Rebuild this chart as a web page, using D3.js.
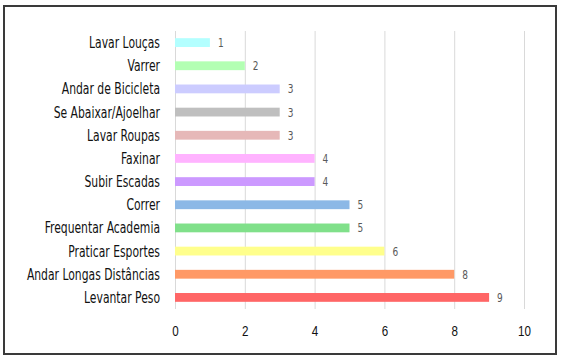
<!DOCTYPE html>
<html>
<head>
<meta charset="utf-8">
<script src="https://cdn.jsdelivr.net/npm/d3@7"></script>
<style>
  body{margin:0;background:#fff;}
  svg{display:block;font-family:"DejaVu Sans Condensed","DejaVu Sans",sans-serif;}
</style>
</head>
<body>
<div id="chart"></div>
<script>
const activities=["Lavar Louças","Varrer","Andar de Bicicleta","Se Abaixar/Ajoelhar","Lavar Roupas","Faxinar","Subir Escadas","Correr","Frequentar Academia","Praticar Esportes","Andar Longas Distâncias","Levantar Peso"];
const counts=[1,2,3,3,3,4,4,5,5,6,8,9];
const barColors=["#b3ffff","#b3ffb3","#ccccff","#bfbfbf","#e6b8b8","#ffb3ff","#cc99ff","#8cb8e6","#80e08a","#ffff8c","#ff9966","#ff6666"];
const ticks=[0,2,4,6,8,10];

(function(){
  const W=562,H=361,sx=.8;
  const m={top:31,right:38,bottom:52,left:175};
  const svg=d3.select("#chart").append("svg").attr("width",W).attr("height",H);

  svg.append("rect").attr("x",4).attr("y",6).attr("width",552).attr("height",348)
    .attr("fill","#fff").attr("stroke","#3a3a3a").attr("stroke-width",2);

  const g=svg.append("g").attr("transform",`translate(${m.left},${m.top})`);
  const x=d3.scaleLinear().domain([0,10]).range([0,349]);
  const y=d3.scaleBand().domain(activities).range([0,278]).paddingInner(.62).paddingOuter(.31);

  g.append("g").attr("transform",`translate(0,278)`)
    .call(d3.axisBottom(x).tickValues(ticks).tickSize(-278).tickPadding(17))
    .call(s=>s.selectAll("line").attr("stroke","#d9d9d9").attr("stroke-width",1))
    .call(s=>s.selectAll("text").attr("font-size",14.5).attr("fill","#111")
      .attr("font-family","inherit").attr("transform",`scale(${sx},1)`))
    .call(s=>s.select(".domain").remove());

  g.selectAll(".bar").data(activities).join("rect")
    .attr("x",x(0)).attr("y",d=>y(d))
    .attr("width",(d,i)=>x(counts[i])-x(0)).attr("height",y.bandwidth())
    .attr("fill",(d,i)=>barColors[i]);

  g.selectAll(".val").data(activities).join("text")
    .attr("transform",(d,i)=>`translate(${x(counts[i])+8},${y(d)+y.bandwidth()/2+4.5}) scale(${sx},1)`)
    .attr("font-size",12.5).attr("fill","#595959").text((d,i)=>counts[i]);

  g.selectAll(".lab").data(activities).join("text")
    .attr("transform",d=>`translate(-15,${y(d)+y.bandwidth()/2+5.5}) scale(${sx},1)`)
    .attr("text-anchor","end").attr("font-size",15).attr("fill","#111").text(d=>d);
})();
</script>
</body>
</html>
